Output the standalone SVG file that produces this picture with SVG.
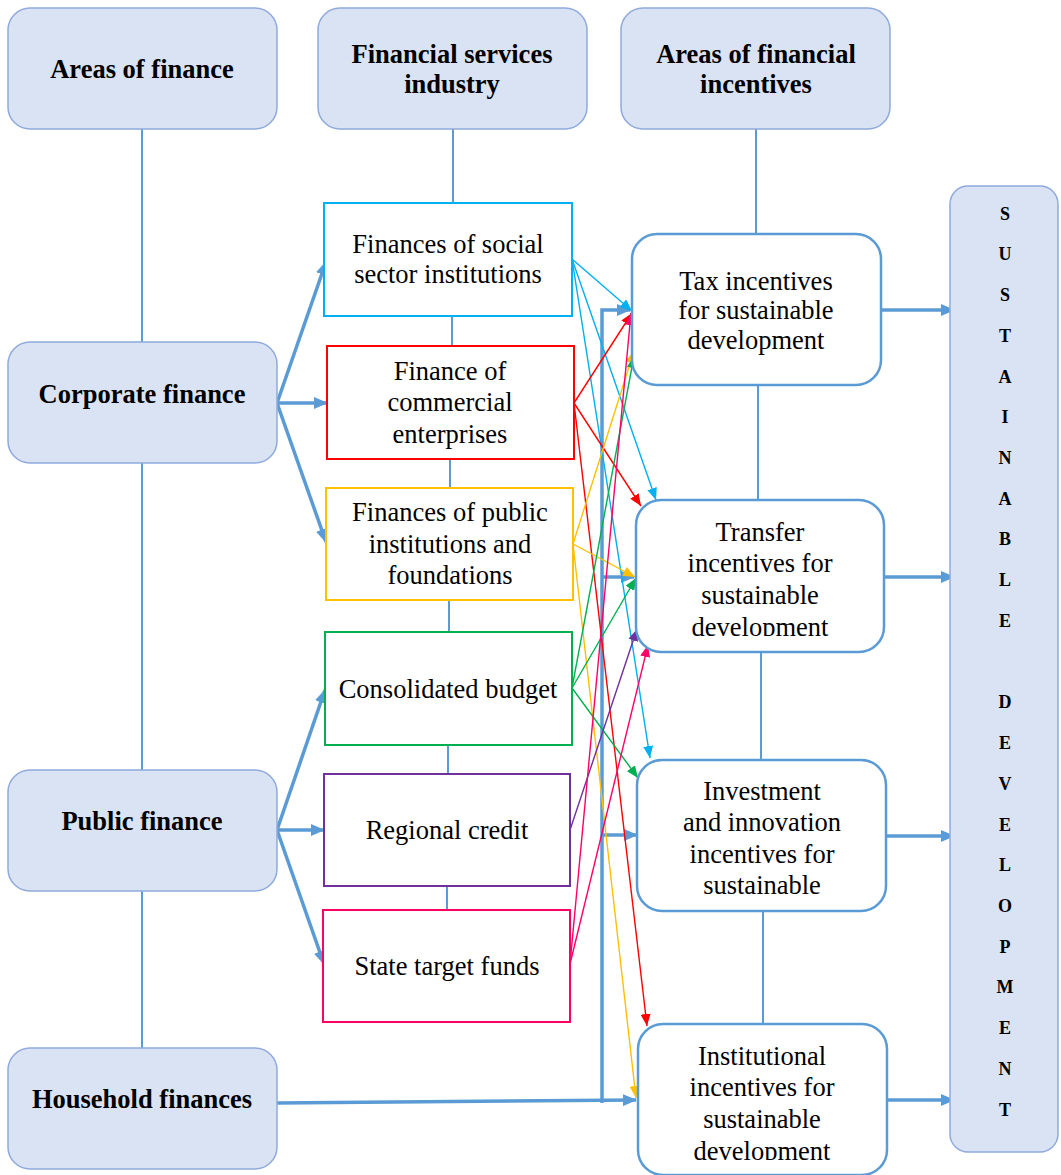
<svg xmlns="http://www.w3.org/2000/svg" width="1061" height="1175" viewBox="0 0 1061 1175">
<style>
.hdr{fill:#DAE3F3;stroke:#8FAADC;stroke-width:1.5}
.inc{fill:#fff;stroke:#5B9BD5;stroke-width:2.5}
.t{font-family:"Liberation Serif","Times New Roman",serif;font-size:26.5px;fill:#000;text-anchor:middle}
.b{font-weight:bold}
.s{font-family:"Liberation Serif","Times New Roman",serif;font-size:18px;font-weight:bold;fill:#000;text-anchor:middle}
.ln{stroke:#5B9BD5;stroke-width:2;fill:none}
.thk{stroke:#5B9BD5;stroke-width:3.5;fill:none}
.cb{fill:#fff;stroke-width:2}
.c1{stroke:#00B0F0}.c2{stroke:#FF0000}.c3{stroke:#FFC000}.c4{stroke:#00B050}.c5{stroke:#7030A0}.c6{stroke:#FF0066}
.thin{stroke-width:1.4;fill:none}
</style>
<defs>
<marker id="ab" markerUnits="userSpaceOnUse" markerWidth="14" markerHeight="12" refX="13" refY="6" orient="auto"><path d="M0,0 L14,6 L0,12 Z" fill="#5B9BD5"/></marker>
<marker id="m1" markerUnits="userSpaceOnUse" markerWidth="12" markerHeight="10" refX="12" refY="5" orient="auto"><path d="M0,0 L12,5 L0,10 Z" fill="#00B0F0"/></marker>
<marker id="m2" markerUnits="userSpaceOnUse" markerWidth="12" markerHeight="10" refX="12" refY="5" orient="auto"><path d="M0,0 L12,5 L0,10 Z" fill="#FF0000"/></marker>
<marker id="m3" markerUnits="userSpaceOnUse" markerWidth="12" markerHeight="10" refX="12" refY="5" orient="auto"><path d="M0,0 L12,5 L0,10 Z" fill="#FFC000"/></marker>
<marker id="m4" markerUnits="userSpaceOnUse" markerWidth="12" markerHeight="10" refX="12" refY="5" orient="auto"><path d="M0,0 L12,5 L0,10 Z" fill="#00B050"/></marker>
<marker id="m5" markerUnits="userSpaceOnUse" markerWidth="12" markerHeight="10" refX="12" refY="5" orient="auto"><path d="M0,0 L12,5 L0,10 Z" fill="#7030A0"/></marker>
<marker id="m6" markerUnits="userSpaceOnUse" markerWidth="12" markerHeight="10" refX="12" refY="5" orient="auto"><path d="M0,0 L12,5 L0,10 Z" fill="#FF0066"/></marker>
<clipPath id="clipTr"><rect x="636" y="500" width="248" height="136"/></clipPath>
<clipPath id="clipInv"><rect x="637" y="760" width="249" height="136"/></clipPath>
<clipPath id="clipIns"><rect x="638" y="1024" width="249" height="136"/></clipPath>
</defs>

<g id="connectors">
<line class="ln" x1="142" y1="129" x2="142" y2="342"/>
<line class="ln" x1="142" y1="463" x2="142" y2="770"/>
<line class="ln" x1="142" y1="891" x2="142" y2="1048"/>
<line class="ln" x1="453" y1="129" x2="453" y2="203"/>
<line class="ln" x1="452" y1="316" x2="452" y2="346"/>
<line class="ln" x1="450" y1="459" x2="450" y2="488"/>
<line class="ln" x1="449" y1="600" x2="449" y2="632"/>
<line class="ln" x1="448" y1="745" x2="448" y2="774"/>
<line class="ln" x1="447" y1="886" x2="447" y2="910"/>
<line class="ln" x1="756" y1="129" x2="756" y2="234"/>
<line class="ln" x1="758" y1="385" x2="758" y2="500"/>
<line class="ln" x1="761" y1="652" x2="761" y2="760"/>
<line class="ln" x1="763" y1="911" x2="763" y2="1024"/>
<line class="thk" x1="277" y1="403" x2="326" y2="262" marker-end="url(#ab)"/>
<line class="thk" x1="277" y1="403" x2="327" y2="403" marker-end="url(#ab)"/>
<line class="thk" x1="277" y1="403" x2="326" y2="542" marker-end="url(#ab)"/>
<line class="thk" x1="277" y1="830" x2="325" y2="690" marker-end="url(#ab)"/>
<line class="thk" x1="277" y1="830" x2="324" y2="830" marker-end="url(#ab)"/>
<line class="thk" x1="277" y1="830" x2="324" y2="964" marker-end="url(#ab)"/>
<line class="thk" x1="277" y1="1103" x2="636" y2="1100" marker-end="url(#ab)"/>
<polyline class="thk" points="602,1103 602,310 630,310" marker-end="url(#ab)"/>
<line class="thk" x1="602" y1="577" x2="634" y2="577" marker-end="url(#ab)"/>
<line class="thk" x1="602" y1="835" x2="637" y2="835" marker-end="url(#ab)"/>
<line class="thk" x1="881" y1="310" x2="954" y2="310" marker-end="url(#ab)"/>
<line class="thk" x1="884" y1="577" x2="954" y2="577" marker-end="url(#ab)"/>
<line class="thk" x1="886" y1="836" x2="954" y2="836" marker-end="url(#ab)"/>
<line class="thk" x1="887" y1="1100" x2="954" y2="1100" marker-end="url(#ab)"/>
<line class="thin c1" x1="572" y1="259" x2="632" y2="311" marker-end="url(#m1)"/>
<line class="thin c1" x1="572" y1="259" x2="656" y2="500" marker-end="url(#m1)"/>
<line class="thin c1" x1="572" y1="259" x2="650" y2="758" marker-end="url(#m1)"/>
<line class="thin c2" x1="574" y1="403" x2="632" y2="313" marker-end="url(#m2)"/>
<line class="thin c2" x1="574" y1="403" x2="641" y2="506" marker-end="url(#m2)"/>
<line class="thin c2" x1="574" y1="403" x2="647" y2="1026" marker-end="url(#m2)"/>
<line class="thin c3" x1="573" y1="544" x2="634" y2="351" marker-end="url(#m3)"/>
<line class="thin c3" x1="573" y1="544" x2="635" y2="577" marker-end="url(#m3)"/>
<line class="thin c3" x1="573" y1="544" x2="636" y2="1098" marker-end="url(#m3)"/>
<line class="thin c4" x1="572" y1="688" x2="634" y2="356" marker-end="url(#m4)"/>
<line class="thin c4" x1="572" y1="688" x2="636" y2="578" marker-end="url(#m4)"/>
<line class="thin c4" x1="572" y1="688" x2="638" y2="778" marker-end="url(#m4)"/>
<line class="thin c5" x1="570" y1="830" x2="637" y2="629" marker-end="url(#m5)"/>
<line class="thin c6" x1="570" y1="964" x2="631" y2="313" marker-end="url(#m6)"/>
<line class="thin c6" x1="570" y1="964" x2="648" y2="645" marker-end="url(#m6)"/>
</g>

<g id="hdr-areas-finance"><rect class="hdr" x="8" y="8" width="269" height="121" rx="22"/><text class="t b" x="142" y="78">Areas of finance</text></g>
<g id="hdr-fin-services"><rect class="hdr" x="318" y="8" width="269" height="121" rx="22"/><text class="t b" x="452" y="63">Financial services</text><text class="t b" x="452" y="93">industry</text></g>
<g id="hdr-areas-incentives"><rect class="hdr" x="621" y="8" width="269" height="121" rx="22"/><text class="t b" x="756" y="63">Areas of financial</text><text class="t b" x="756" y="93">incentives</text></g>

<g id="corporate-finance"><rect class="hdr" x="8" y="342" width="269" height="121" rx="22"/><text class="t b" x="142" y="403">Corporate finance</text></g>
<g id="public-finance"><rect class="hdr" x="8" y="770" width="269" height="121" rx="22"/><text class="t b" x="142" y="830">Public finance</text></g>
<g id="household-finances"><rect class="hdr" x="8" y="1048" width="269" height="121" rx="22"/><text class="t b" x="142" y="1108">Household finances</text></g>

<g id="social"><rect class="cb c1" x="324" y="203" width="248" height="113"/><text class="t" x="448" y="253">Finances of social</text><text class="t" x="448" y="283">sector institutions</text></g>
<g id="commercial"><rect class="cb c2" x="327" y="346" width="247" height="113"/><text class="t" x="450" y="380">Finance of</text><text class="t" x="450" y="411">commercial</text><text class="t" x="450" y="443">enterprises</text></g>
<g id="public-inst"><rect class="cb c3" x="326" y="488" width="247" height="112"/><text class="t" x="450" y="521">Finances of public</text><text class="t" x="450" y="553">institutions and</text><text class="t" x="450" y="584">foundations</text></g>
<g id="consolidated"><rect class="cb c4" x="325" y="632" width="247" height="113"/><text class="t" x="448" y="698">Consolidated budget</text></g>
<g id="regional"><rect class="cb c5" x="324" y="774" width="246" height="112"/><text class="t" x="447" y="839">Regional credit</text></g>
<g id="state-funds"><rect class="cb c6" x="323" y="910" width="247" height="112"/><text class="t" x="447" y="975">State target funds</text></g>

<g id="tax"><rect class="inc" x="632" y="234" width="249" height="151" rx="25"/><text class="t" x="756" y="290">Tax incentives</text><text class="t" x="756" y="319">for sustainable</text><text class="t" x="756" y="349">development</text></g>
<g id="transfer"><rect class="inc" x="636" y="500" width="248" height="152" rx="25"/><g clip-path="url(#clipTr)"><text class="t" x="760" y="541">Transfer</text><text class="t" x="760" y="572">incentives for</text><text class="t" x="760" y="604">sustainable</text><text class="t" x="760" y="636">development</text></g></g>
<g id="investment"><rect class="inc" x="637" y="760" width="249" height="151" rx="25"/><g clip-path="url(#clipInv)"><text class="t" x="762" y="800">Investment</text><text class="t" x="762" y="831">and innovation</text><text class="t" x="762" y="863">incentives for</text><text class="t" x="762" y="894">sustainable</text><text class="t" x="762" y="926">development</text></g></g>
<g id="institutional"><rect class="inc" x="638" y="1024" width="249" height="151" rx="25"/><g clip-path="url(#clipIns)"><text class="t" x="762" y="1065">Institutional</text><text class="t" x="762" y="1096">incentives for</text><text class="t" x="762" y="1128">sustainable</text><text class="t" x="762" y="1160">development</text></g></g>

<g id="sustainable-development">
<rect class="hdr" x="950" y="186" width="108" height="966" rx="18"/>
<text class="s" x="1005" y="220">S</text>
<text class="s" x="1005" y="260">U</text>
<text class="s" x="1005" y="301">S</text>
<text class="s" x="1005" y="342">T</text>
<text class="s" x="1005" y="383">A</text>
<text class="s" x="1005" y="423">I</text>
<text class="s" x="1005" y="464">N</text>
<text class="s" x="1005" y="505">A</text>
<text class="s" x="1005" y="545">B</text>
<text class="s" x="1005" y="586">L</text>
<text class="s" x="1005" y="627">E</text>
<text class="s" x="1005" y="708">D</text>
<text class="s" x="1005" y="749">E</text>
<text class="s" x="1005" y="790">V</text>
<text class="s" x="1005" y="831">E</text>
<text class="s" x="1005" y="871">L</text>
<text class="s" x="1005" y="912">O</text>
<text class="s" x="1005" y="953">P</text>
<text class="s" x="1005" y="993">M</text>
<text class="s" x="1005" y="1034">E</text>
<text class="s" x="1005" y="1075">N</text>
<text class="s" x="1005" y="1116">T</text>
</g>
</svg>
